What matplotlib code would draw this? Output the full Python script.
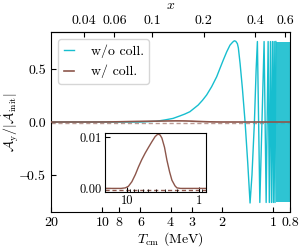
import numpy as np
import matplotlib
matplotlib.use("Agg")
import matplotlib.pyplot as plt
from matplotlib.ticker import FixedLocator, NullLocator, NullFormatter, LogLocator

plt.rcParams['font.family'] = 'serif'
plt.rcParams['font.serif'] = ['cmr10']
plt.rcParams['mathtext.fontset'] = 'cm'
plt.rcParams['axes.formatter.use_mathtext'] = True
plt.rcParams['font.size'] = 10

# ---- data ----
# w/o coll. (cyan): temperature (MeV) and value
T_wo = [20, 10, 7, 6.06, 4.835, 4.3, 3.864, 3.529, 3.3, 3.082, 2.756, 2.6, 2.459, 2.299,
        2.148, 2.054, 1.965, 1.876, 1.795, 1.73, 1.693, 1.66, 1.625, 1.604, 1.567,
        1.519, 1.465, 1.413, 1.370, 1.335, 1.292, 1.262, 1.241, 1.201, 1.134, 1.103,
        1.074, 1.057, 1.041, 1.027, 1.013, 1.001, 0.990, 0.979, 0.968]
A_wo = [0, 0, 0, 0.0, 0.007, 0.02, 0.034, 0.057, 0.075, 0.097, 0.16, 0.205, 0.255, 0.333,
        0.427, 0.507, 0.585, 0.663, 0.726, 0.755, 0.767, 0.762, 0.74, 0.70, 0.553,
        0.318, 0.0, -0.39, -0.765, -0.5, 0.0, 0.5, 0.76, -0.76, 0.76, -0.76,
        0.76, -0.76, 0.76, -0.76, 0.76, -0.76, 0.76, -0.76, 0.76]
# densely oscillating part (fills the band)
T_band = [0.968, 0.8]
A_band_hi = [0.76, 0.76]
A_band_lo = [-0.76, -0.76]

# w/ coll. (brown)
T_w = [20, 12, 10.5, 9.5, 8.5, 7.6, 6.88, 6.2, 5.55, 5.0, 4.49, 4.05, 3.70, 3.45, 3.26,
       3.0, 2.78, 2.55, 2.37, 2.15, 2.02, 1.8, 0.8]
A_w = [0, 0, 0.0001, 0.0004, 0.0013, 0.0027, 0.0042, 0.0056, 0.0069, 0.008, 0.0091,
       0.0101, 0.0106, 0.0104, 0.0098, 0.0080, 0.0055, 0.0032, 0.0016, 0.0005, 0.0001,
       0, 0]
# dashed reference series
T_dash = [20, 0.8]
A_dash_main = [-0.01, -0.01]
A_dash_inset = [-0.0003, -0.0003]

xticks_main = [20, 10, 8, 6, 4, 3, 2, 1, 0.8]
xticklabels_main = ['20', '10', '8', '6', '4', '3', '2', '1', '0.8']
top_ticks = [0.04, 0.06, 0.1, 0.2, 0.4, 0.6]
top_labels = ['0.04', '0.06', '0.1', '0.2', '0.4', '0.6']
yticks_main = [-0.5, 0.0, 0.5]
yticklabels_main = [r'$-\!$0.5', '0.0', '0.5']
me = 0.511

cyan = '#17becf'
brown = '#8c564b'

fig = plt.figure(figsize=(3.02, 2.5), dpi=100)
ax = fig.add_axes([51/302, 1-212/250, (290-51)/302, (212-32)/250])

ax.plot(T_dash, A_dash_main, color=brown, lw=1.0, ls=(0, (3, 2)), alpha=0.6, zorder=1)
ax.plot(T_wo, A_wo, color=cyan, lw=1.0, label='w/o coll.', zorder=2)
ax.fill_between(T_band, A_band_lo, A_band_hi, color=cyan, lw=0, alpha=0.9, zorder=2)
ax.plot(T_w, A_w, color=brown, lw=1.2, label='w/ coll.', zorder=3)

ax.set_xscale('log')
ax.set_xlim(20, 0.8)
ax.set_ylim(-0.85, 0.85)
ax.xaxis.set_major_locator(FixedLocator(xticks_main))
ax.set_xticklabels(xticklabels_main)
ax.xaxis.set_minor_locator(NullLocator())
ax.set_yticks(yticks_main)
ax.set_yticklabels(yticklabels_main)
ax.tick_params(direction='in', which='both', top=False, right=False)
ax.set_xlabel(r'$T_\mathrm{cm}$ (MeV)', labelpad=1)
ax.set_ylabel(r'$\mathcal{A}_\mathrm{y}/|\vec{\mathcal{A}}_\mathrm{init}|$')
ax.yaxis.set_label_coords(-0.125, 0.5)
ax.legend(loc='upper left', handlelength=0.75, handletextpad=1.2)

sec = ax.secondary_xaxis('top', functions=(lambda T: me / T, lambda x: me / x))
sec.xaxis.set_major_locator(FixedLocator(top_ticks))
sec.set_xticklabels(top_labels)
sec.xaxis.set_minor_locator(NullLocator())
sec.tick_params(direction='in', which='both')
sec.set_xlabel(r'$x$', labelpad=4)

# inset
axin = fig.add_axes([105/302, 1-192/250, (206-105)/302, (192-133)/250])
axin.plot(T_dash, A_dash_inset, color=brown, lw=1.0, ls=(0, (3, 2)), zorder=1)
axin.plot(T_w, A_w, color=brown, lw=1.0, zorder=2)
axin.set_xscale('log')
axin.set_xlim(20, 0.8)
axin.set_ylim(-0.0007, 0.0108)
axin.xaxis.set_major_locator(FixedLocator([10, 1]))
axin.set_xticklabels(['10', '1'])
axin.xaxis.set_minor_locator(LogLocator(base=10, subs=np.arange(2, 10)))
axin.xaxis.set_minor_formatter(NullFormatter())
axin.set_yticks([0.0, 0.01])
axin.set_yticklabels(['0.00', '0.01'])
axin.tick_params(direction='in', which='both', labelsize=9, pad=2)

fig.savefig('out.png', dpi=100)
